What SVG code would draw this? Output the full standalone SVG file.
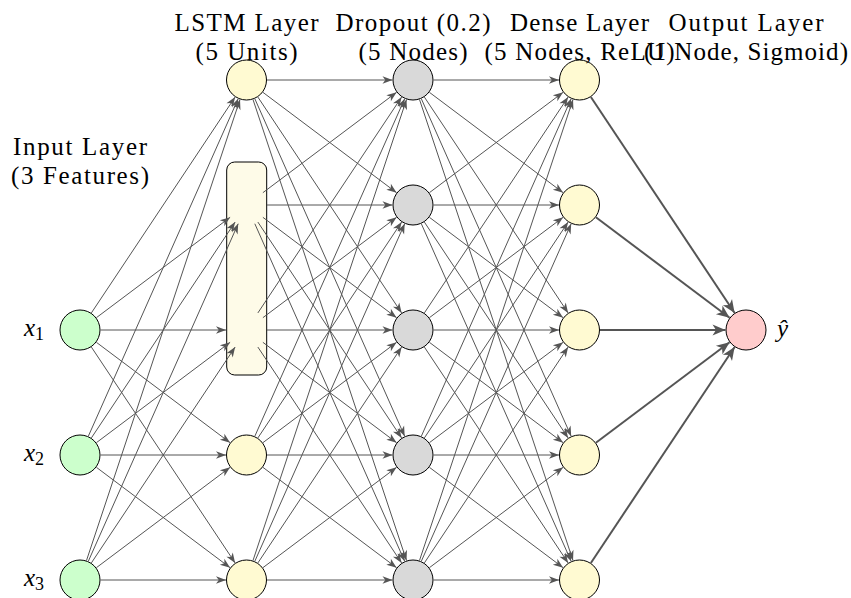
<svg xmlns="http://www.w3.org/2000/svg" width="851" height="598" viewBox="0 0 851 598">
<style>
.n{stroke:#000;stroke-width:1}
.in{fill:#ccffcc}.ls{fill:#fffad2}.dr{fill:#d9d9d9}.de{fill:#fffad2}.out{fill:#ffcccc}
.cell{fill:#fefbe8;stroke:#000;stroke-width:1}
.e{stroke:#555;stroke-width:1;fill:none;marker-end:url(#ah)}
.eo{stroke:#555;stroke-width:2;fill:none;marker-end:url(#aho)}
.lbl{font-family:"Liberation Serif","Times New Roman",serif;font-size:25px;text-anchor:middle;fill:#000}
.math{font-family:"Liberation Serif","Times New Roman",serif;font-style:italic;font-size:25px;fill:#000}
.sub{font-style:normal;font-size:18px}
</style>
<defs>
<marker id="ah" markerUnits="userSpaceOnUse" markerWidth="12" markerHeight="10" viewBox="-11 -5 12 10" refX="0" refY="0" orient="auto"><path d="M0,0 L-10,-3.8 L-7.2,0 L-10,3.8 Z" fill="#555"/></marker>
<marker id="aho" markerUnits="userSpaceOnUse" markerWidth="15" markerHeight="14" viewBox="-14 -7 15 14" refX="0" refY="0" orient="auto"><path d="M0,0 L-13,-5.5 L-9.5,0 L-13,5.5 Z" fill="#555"/></marker>
</defs>

<g id="input-x1"><circle class="n in" cx="80" cy="330" r="20"/></g>
<g id="input-x2"><circle class="n in" cx="80" cy="455" r="20"/></g>
<g id="input-x3"><circle class="n in" cx="80" cy="580" r="20"/></g>

<g id="lstm-1"><circle class="n ls" cx="246.5" cy="80" r="20"/></g>
<g id="lstm-4"><circle class="n ls" cx="246.5" cy="455" r="20"/></g>
<g id="lstm-5"><circle class="n ls" cx="246.5" cy="580" r="20"/></g>
<g id="lstm-cell"><rect class="cell" x="226.7" y="162" width="40" height="213" rx="8" ry="8"/></g>

<g id="dropout-1"><circle class="n dr" cx="413" cy="80" r="20"/></g>
<g id="dropout-2"><circle class="n dr" cx="413" cy="205" r="20"/></g>
<g id="dropout-3"><circle class="n dr" cx="413" cy="330" r="20"/></g>
<g id="dropout-4"><circle class="n dr" cx="413" cy="455" r="20"/></g>
<g id="dropout-5"><circle class="n dr" cx="413" cy="580" r="20"/></g>

<g id="dense-1"><circle class="n de" cx="579.5" cy="80" r="20"/></g>
<g id="dense-2"><circle class="n de" cx="579.5" cy="205" r="20"/></g>
<g id="dense-3"><circle class="n de" cx="579.5" cy="330" r="20"/></g>
<g id="dense-4"><circle class="n de" cx="579.5" cy="455" r="20"/></g>
<g id="dense-5"><circle class="n de" cx="579.5" cy="580" r="20"/></g>

<g id="output"><circle class="n out" cx="746" cy="330" r="20"/></g>

<g id="connectors">
<!-- input -> LSTM -->
<line class="e" x1="91.36" y1="312.94" x2="235.14" y2="97.06"/>
<line class="e" x1="96.39" y1="317.69" x2="230.11" y2="217.31"/>
<line class="e" x1="100.5" y1="330" x2="226" y2="330"/>
<line class="e" x1="96.39" y1="342.31" x2="230.11" y2="442.69"/>
<line class="e" x1="91.36" y1="347.06" x2="235.14" y2="562.94"/>
<line class="e" x1="88.32" y1="436.26" x2="238.18" y2="98.74"/>
<line class="e" x1="91.36" y1="437.94" x2="235.14" y2="222.06"/>
<line class="e" x1="96.39" y1="442.69" x2="230.11" y2="342.31"/>
<line class="e" x1="100.5" y1="455" x2="226" y2="455"/>
<line class="e" x1="96.39" y1="467.31" x2="230.11" y2="567.69"/>
<line class="e" x1="86.48" y1="560.55" x2="240.02" y2="99.45"/>
<line class="e" x1="88.32" y1="561.26" x2="238.18" y2="223.74"/>
<line class="e" x1="91.36" y1="562.94" x2="235.14" y2="347.06"/>
<line class="e" x1="96.39" y1="567.69" x2="230.11" y2="467.31"/>
<line class="e" x1="100.5" y1="580" x2="226" y2="580"/>
<!-- LSTM -> dropout -->
<line class="e" x1="267" y1="80" x2="392.5" y2="80"/>
<line class="e" x1="262.89" y1="92.31" x2="396.61" y2="192.69"/>
<line class="e" x1="257.86" y1="97.06" x2="401.64" y2="312.94"/>
<line class="e" x1="254.82" y1="98.74" x2="404.68" y2="436.26"/>
<line class="e" x1="252.98" y1="99.45" x2="406.52" y2="560.55"/>
<line class="e" x1="262.89" y1="192.69" x2="396.61" y2="92.31"/>
<line class="e" x1="267" y1="205" x2="392.5" y2="205"/>
<line class="e" x1="262.89" y1="217.31" x2="396.61" y2="317.69"/>
<line class="e" x1="257.86" y1="222.06" x2="401.64" y2="437.94"/>
<line class="e" x1="254.82" y1="223.74" x2="404.68" y2="561.26"/>
<line class="e" x1="257.86" y1="312.94" x2="401.64" y2="97.06"/>
<line class="e" x1="262.89" y1="317.69" x2="396.61" y2="217.31"/>
<line class="e" x1="267" y1="330" x2="392.5" y2="330"/>
<line class="e" x1="262.89" y1="342.31" x2="396.61" y2="442.69"/>
<line class="e" x1="257.86" y1="347.06" x2="401.64" y2="562.94"/>
<line class="e" x1="254.82" y1="436.26" x2="404.68" y2="98.74"/>
<line class="e" x1="257.86" y1="437.94" x2="401.64" y2="222.06"/>
<line class="e" x1="262.89" y1="442.69" x2="396.61" y2="342.31"/>
<line class="e" x1="267" y1="455" x2="392.5" y2="455"/>
<line class="e" x1="262.89" y1="467.31" x2="396.61" y2="567.69"/>
<line class="e" x1="252.98" y1="560.55" x2="406.52" y2="99.45"/>
<line class="e" x1="254.82" y1="561.26" x2="404.68" y2="223.74"/>
<line class="e" x1="257.86" y1="562.94" x2="401.64" y2="347.06"/>
<line class="e" x1="262.89" y1="567.69" x2="396.61" y2="467.31"/>
<line class="e" x1="267" y1="580" x2="392.5" y2="580"/>
<!-- dropout -> dense -->
<line class="e" x1="433.5" y1="80" x2="559" y2="80"/>
<line class="e" x1="429.39" y1="92.31" x2="563.11" y2="192.69"/>
<line class="e" x1="424.36" y1="97.06" x2="568.14" y2="312.94"/>
<line class="e" x1="421.32" y1="98.74" x2="571.18" y2="436.26"/>
<line class="e" x1="419.48" y1="99.45" x2="573.02" y2="560.55"/>
<line class="e" x1="429.39" y1="192.69" x2="563.11" y2="92.31"/>
<line class="e" x1="433.5" y1="205" x2="559" y2="205"/>
<line class="e" x1="429.39" y1="217.31" x2="563.11" y2="317.69"/>
<line class="e" x1="424.36" y1="222.06" x2="568.14" y2="437.94"/>
<line class="e" x1="421.32" y1="223.74" x2="571.18" y2="561.26"/>
<line class="e" x1="424.36" y1="312.94" x2="568.14" y2="97.06"/>
<line class="e" x1="429.39" y1="317.69" x2="563.11" y2="217.31"/>
<line class="e" x1="433.5" y1="330" x2="559" y2="330"/>
<line class="e" x1="429.39" y1="342.31" x2="563.11" y2="442.69"/>
<line class="e" x1="424.36" y1="347.06" x2="568.14" y2="562.94"/>
<line class="e" x1="421.32" y1="436.26" x2="571.18" y2="98.74"/>
<line class="e" x1="424.36" y1="437.94" x2="568.14" y2="222.06"/>
<line class="e" x1="429.39" y1="442.69" x2="563.11" y2="342.31"/>
<line class="e" x1="433.5" y1="455" x2="559" y2="455"/>
<line class="e" x1="429.39" y1="467.31" x2="563.11" y2="567.69"/>
<line class="e" x1="419.48" y1="560.55" x2="573.02" y2="99.45"/>
<line class="e" x1="421.32" y1="561.26" x2="571.18" y2="223.74"/>
<line class="e" x1="424.36" y1="562.94" x2="568.14" y2="347.06"/>
<line class="e" x1="429.39" y1="567.69" x2="563.11" y2="467.31"/>
<line class="e" x1="433.5" y1="580" x2="559" y2="580"/>
<!-- dense -> output -->
<line class="eo" x1="590.86" y1="97.06" x2="734.64" y2="312.94"/>
<line class="eo" x1="595.89" y1="217.31" x2="729.61" y2="317.69"/>
<line class="eo" x1="600" y1="330" x2="725.5" y2="330"/>
<line class="eo" x1="595.89" y1="442.69" x2="729.61" y2="342.31"/>
<line class="eo" x1="590.86" y1="562.94" x2="734.64" y2="347.06"/>
</g>

<g id="labels">
<text class="lbl" x="80" y="155" textLength="134" lengthAdjust="spacing">Input Layer</text>
<text class="lbl" x="80" y="184" textLength="138" lengthAdjust="spacing">(3 Features)</text>
<text class="lbl" x="246.5" y="31" textLength="144" lengthAdjust="spacing">LSTM Layer</text>
<text class="lbl" x="246.5" y="60" textLength="102" lengthAdjust="spacing">(5 Units)</text>
<text class="lbl" x="413" y="31" textLength="155" lengthAdjust="spacing">Dropout (0.2)</text>
<text class="lbl" x="413" y="60" textLength="109" lengthAdjust="spacing">(5 Nodes)</text>
<text class="lbl" x="579.5" y="31" textLength="139" lengthAdjust="spacing">Dense Layer</text>
<text class="lbl" x="579.5" y="60" textLength="190" lengthAdjust="spacing">(5 Nodes, ReLU)</text>
<text class="lbl" x="746" y="31" textLength="155" lengthAdjust="spacing">Output Layer</text>
<text class="lbl" x="746" y="60" textLength="204" lengthAdjust="spacing">(1 Node, Sigmoid)</text>
<text class="math" x="24" y="336">x<tspan class="sub" dy="4">1</tspan></text>
<text class="math" x="24" y="461">x<tspan class="sub" dy="4">2</tspan></text>
<text class="math" x="24" y="586">x<tspan class="sub" dy="4">3</tspan></text>
<text class="math" x="777" y="337">ŷ</text>
</g>
</svg>
